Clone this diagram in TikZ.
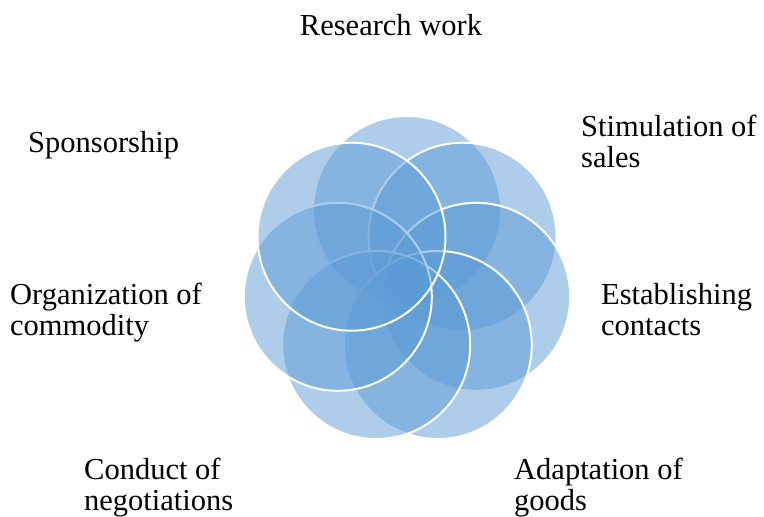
\documentclass[tikz,border=0pt]{standalone}
\usepackage{fontspec}
\setmainfont{Liberation Serif}
\definecolor{petalblue}{RGB}{91,155,213}
\tikzset{
  petal/.style={fill=petalblue, fill opacity=0.5, draw=white, line width=2pt},
  lbl/.style={anchor=base west, align=left, inner sep=0pt, font=\fontsize{30.5}{31}\selectfont}
}
\begin{document}
\begin{tikzpicture}[x=1pt,y=-1pt]
\useasboundingbox (0,0) rectangle (764,517);
% petals, clockwise from the top
\path[petal] (407,210) circle[radius=94];
\path[petal] (462.5,236.7) circle[radius=94];
\path[petal] (476.2,296.8) circle[radius=94];
\path[petal] (437.8,345) circle[radius=94];
\path[petal] (376.2,345) circle[radius=94];
\path[petal] (337.8,296.8) circle[radius=94];
\path[petal] (351.5,236.7) circle[radius=94];
% labels (base = last line)
\node[lbl, anchor=base] (research) at (391,35) {Research work};
\node[lbl] (stimulation) at (581,167) {Stimulation of\\sales};
\node[lbl] (contacts) at (601,335) {Establishing\\contacts};
\node[lbl] (adaptation) at (514,510) {Adaptation of\\goods};
\node[lbl] (negotiations) at (84,510) {Conduct of\\negotiations};
\node[lbl] (commodity) at (10,335) {Organization of\\commodity};
\node[lbl] (sponsorship) at (28,152) {Sponsorship};
\end{tikzpicture}
\end{document}
